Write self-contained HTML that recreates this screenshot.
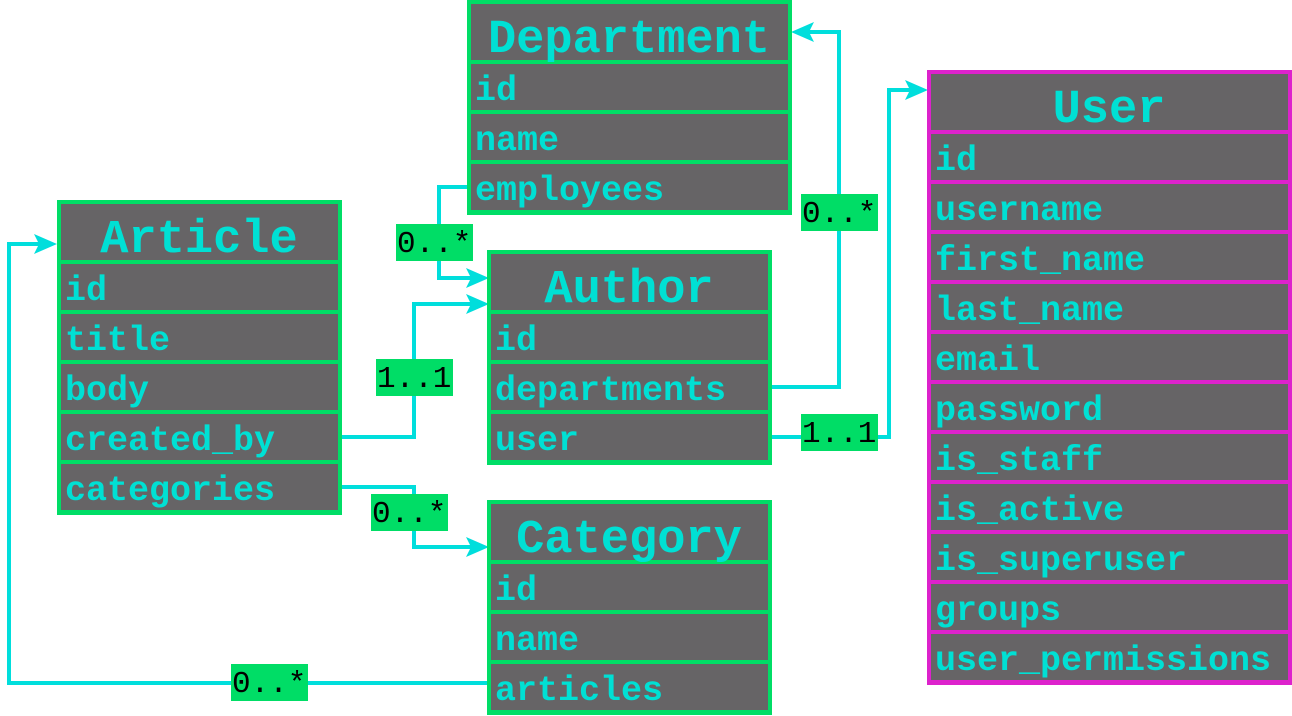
<!DOCTYPE html>
<html><head><meta charset="utf-8"><style>
html,body{margin:0;padding:0;background:#fff;width:1292px;height:716px;overflow:hidden}
svg{display:block}
.h{font-family:"Liberation Mono",monospace;font-weight:bold;font-size:47px;fill:#00e0d4;text-anchor:middle}
.r{font-family:"Liberation Mono",monospace;font-weight:bold;font-size:35px;fill:#00e0d4}
.l{font-family:"Liberation Mono",monospace;font-size:31px;fill:#000}
.c{fill:#666466}
.ln{fill:none;stroke:#00dedc;stroke-width:4}
.a{fill:#00dedc}
.lb{fill:#00dd66}
</style></head><body>
<svg width="1292" height="716" viewBox="0 0 1292 716">
<!-- connectors -->
<polyline class="ln" points="467,187 439,187 439,278 480,278"/>
<polygon class="a" points="489,278 466,268 471,278 466,288"/>
<polyline class="ln" points="342,437 414,437 414,304 480,304"/>
<polygon class="a" points="489,304 466,294 471,304 466,314"/>
<polyline class="ln" points="342,487 414,487 414,547 480,547"/>
<polygon class="a" points="489,547 466,537 471,547 466,557"/>
<polyline class="ln" points="487,683 9,683 9,244 50,244"/>
<polygon class="a" points="57,244 34,234 39,244 34,254"/>
<polyline class="ln" points="772,387 839,387 839,32 800,32"/>
<polygon class="a" points="791,32 814,22 809,32 814,42"/>
<polyline class="ln" points="772,437 889,437 889,90 920,90"/>
<polygon class="a" points="928,90 905,80 910,90 905,100"/>
<!-- labels -->
<rect class="lb" x="396" y="224" width="77" height="37"/><text class="l" x="397" y="252">0..*</text>
<rect class="lb" x="376" y="359" width="77" height="37"/><text class="l" x="377" y="387">1..1</text>
<rect class="lb" x="371" y="494" width="77" height="37"/><text class="l" x="372" y="522">0..*</text>
<rect class="lb" x="231" y="664" width="77" height="37"/><text class="l" x="232" y="692">0..*</text>
<rect class="lb" x="801" y="194" width="77" height="37"/><text class="l" x="802" y="222">0..*</text>
<rect class="lb" x="801" y="414" width="77" height="37"/><text class="l" x="802" y="442">1..1</text>

<!-- Article -->
<g>
<rect x="57" y="200" width="285" height="315" fill="#00dd66"/>
<rect class="c" x="61" y="204" width="277" height="56"/>
<rect class="c" x="61" y="264" width="277" height="46"/>
<rect class="c" x="61" y="314" width="277" height="46"/>
<rect class="c" x="61" y="364" width="277" height="46"/>
<rect class="c" x="61" y="414" width="277" height="46"/>
<rect class="c" x="61" y="464" width="277" height="46"/>
<text class="h" x="199" y="252">Article</text>
<text class="r" x="65" y="300">id</text>
<text class="r" x="65" y="350">title</text>
<text class="r" x="65" y="400">body</text>
<text class="r" x="65" y="450">created_by</text>
<text class="r" x="65" y="500">categories</text>
</g>
<!-- Department -->
<g>
<rect x="467" y="0" width="325" height="215" fill="#00dd66"/>
<rect class="c" x="471" y="4" width="317" height="56"/>
<rect class="c" x="471" y="64" width="317" height="46"/>
<rect class="c" x="471" y="114" width="317" height="46"/>
<rect class="c" x="471" y="164" width="317" height="46"/>
<text class="h" x="629" y="52">Department</text>
<text class="r" x="475" y="100">id</text>
<text class="r" x="475" y="150">name</text>
<text class="r" x="475" y="200">employees</text>
</g>
<!-- Author -->
<g>
<rect x="487" y="250" width="285" height="215" fill="#00dd66"/>
<rect class="c" x="491" y="254" width="277" height="56"/>
<rect class="c" x="491" y="314" width="277" height="46"/>
<rect class="c" x="491" y="364" width="277" height="46"/>
<rect class="c" x="491" y="414" width="277" height="46"/>
<text class="h" x="629" y="302">Author</text>
<text class="r" x="495" y="350">id</text>
<text class="r" x="495" y="400">departments</text>
<text class="r" x="495" y="450">user</text>
</g>
<!-- Category -->
<g>
<rect x="487" y="500" width="285" height="215" fill="#00dd66"/>
<rect class="c" x="491" y="504" width="277" height="56"/>
<rect class="c" x="491" y="564" width="277" height="46"/>
<rect class="c" x="491" y="614" width="277" height="46"/>
<rect class="c" x="491" y="664" width="277" height="46"/>
<text class="h" x="629" y="552">Category</text>
<text class="r" x="495" y="600">id</text>
<text class="r" x="495" y="650">name</text>
<text class="r" x="495" y="700">articles</text>
</g>
<!-- User -->
<g>
<rect x="927" y="70" width="365" height="615" fill="#dd22cc"/>
<rect class="c" x="931" y="74" width="357" height="56"/>
<rect class="c" x="931" y="134" width="357" height="46"/>
<rect class="c" x="931" y="184" width="357" height="46"/>
<rect class="c" x="931" y="234" width="357" height="46"/>
<rect class="c" x="931" y="284" width="357" height="46"/>
<rect class="c" x="931" y="334" width="357" height="46"/>
<rect class="c" x="931" y="384" width="357" height="46"/>
<rect class="c" x="931" y="434" width="357" height="46"/>
<rect class="c" x="931" y="484" width="357" height="46"/>
<rect class="c" x="931" y="534" width="357" height="46"/>
<rect class="c" x="931" y="584" width="357" height="46"/>
<rect class="c" x="931" y="634" width="357" height="46"/>
<text class="h" x="1109" y="122">User</text>
<text class="r" x="935" y="170">id</text>
<text class="r" x="935" y="220">username</text>
<text class="r" x="935" y="270">first_name</text>
<text class="r" x="935" y="320">last_name</text>
<text class="r" x="935" y="370">email</text>
<text class="r" x="935" y="420">password</text>
<text class="r" x="935" y="470">is_staff</text>
<text class="r" x="935" y="520">is_active</text>
<text class="r" x="935" y="570">is_superuser</text>
<text class="r" x="935" y="620">groups</text>
<text class="r" x="935" y="670">user_permissions</text>
</g>
</svg>
</body></html>
